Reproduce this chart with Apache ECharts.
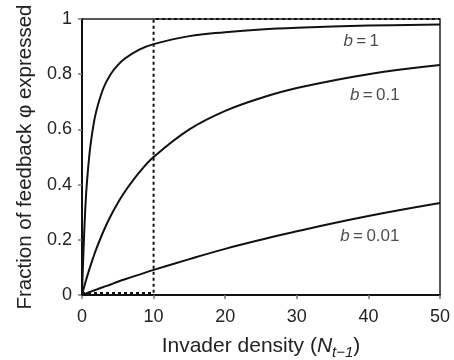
<!DOCTYPE html>
<html><head><meta charset="utf-8">
<script src="https://cdn.jsdelivr.net/npm/echarts@6/dist/echarts.min.js"></script>
<style>html,body{margin:0;padding:0;background:#fff}#c{width:454px;height:360px}</style>
</head><body><div id="c"></div>
<script>
const density = [0, 0.5, 1, 1.5, 2, 3, 4, 5, 6, 8, 10, 15, 20, 25, 30, 40, 50];
const phiB1 = [0, 0.333, 0.5, 0.6, 0.667, 0.75, 0.8, 0.833, 0.857, 0.889, 0.909, 0.938, 0.952, 0.962, 0.968, 0.976, 0.980];
const phiB01 = [0, 0.048, 0.091, 0.130, 0.167, 0.231, 0.286, 0.333, 0.375, 0.444, 0.5, 0.6, 0.667, 0.714, 0.75, 0.8, 0.833];
const phiB001 = [0, 0.005, 0.0099, 0.0148, 0.0196, 0.029, 0.038, 0.048, 0.057, 0.074, 0.091, 0.130, 0.167, 0.2, 0.231, 0.286, 0.333];
const guideX = [0, 10, 10, 50];
const guideY = [0.007, 0.007, 1, 1];
const curveLabels = ['b=1', 'b=0.1', 'b=0.01'];

const pair = (xs, ys) => xs.map((x, i) => [x, ys[i]]);
const font = 'Liberation Sans, Arial, sans-serif';
const chart = echarts.init(document.getElementById('c'), null, {renderer: 'canvas'});
const curve = (d) => ({type: 'line', data: pair(density, d), smooth: 0.4, showSymbol: false,
  lineStyle: {color: '#111', width: 2}, z: 3, animation: false});
const lab = (txt, x, y) => ({type: 'scatter', symbolSize: 0, data: [[x, y]], silent: true, animation: false,
  label: {show: true, position: 'inside', formatter: '{i|b}{n|\u2009=\u2009' + txt.split('=')[1] + '}',
    rich: {i: {fontStyle: 'italic', fontSize: 17, fontFamily: font, color: '#222'},
           n: {fontSize: 17, fontFamily: font, color: '#222'}}}});
chart.setOption({
  animation: false,
  grid: {left: 82, right: 14, top: 19, bottom: 65, show: true, borderColor: '#222', borderWidth: 1.5,
    containLabel: false, outerBoundsMode: 'none'},
  xAxis: {type: 'value', min: 0, max: 50, interval: 10,
    axisLine: {lineStyle: {color: '#111', width: 2}},
    axisTick: {show: true, length: 4, lineStyle: {color: '#777', width: 1.5}},
    axisLabel: {fontSize: 18, fontFamily: font, color: '#222', margin: 13},
    splitLine: {show: false},
    name: '{a|Invader density (}{i|N}{s|t−1}{a|)}', nameLocation: 'middle', nameGap: 38,
    nameTextStyle: {rich: {
      a: {fontSize: 21, fontFamily: font, color: '#222'},
      i: {fontSize: 21, fontFamily: font, color: '#222', fontStyle: 'italic'},
      s: {fontSize: 15, fontFamily: font, color: '#222', fontStyle: 'italic', padding: [12, 0, 0, 0]}}}},
  yAxis: {type: 'value', min: 0, max: 1, interval: 0.2,
    axisLine: {show: true, lineStyle: {color: '#111', width: 2}},
    axisTick: {show: true, length: 4, lineStyle: {color: '#777', width: 1.5}},
    axisLabel: {fontSize: 18, fontFamily: font, color: '#222', margin: 10},
    splitLine: {show: false},
    name: 'Fraction of feedback φ expressed', nameLocation: 'middle', nameGap: 44,
    nameTextStyle: {fontSize: 20.5, fontFamily: font, color: '#222'}},
  series: [
    curve(phiB1), curve(phiB01), curve(phiB001),
    {type: 'line', data: pair(guideX, guideY), showSymbol: false, smooth: false, z: 4,
      lineStyle: {color: '#111', width: 2, type: [3, 3]}},
    lab(curveLabels[0], 39, 0.92),
    lab(curveLabels[1], 40.9, 0.725),
    lab(curveLabels[2], 40.2, 0.214)
  ]
});
</script></body></html>
